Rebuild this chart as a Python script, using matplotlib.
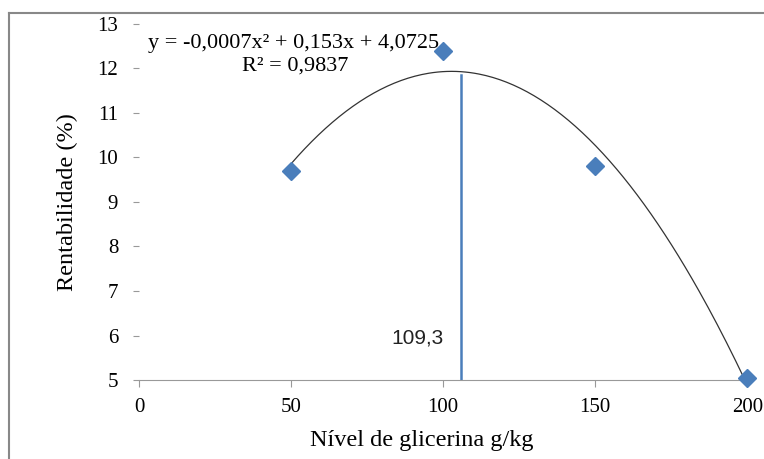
import numpy as np
import matplotlib.pyplot as plt
from matplotlib.lines import Line2D

# data
nivel = [50, 100, 150, 200]
rentab = [9.7, 12.4, 9.8, 5.05]
x_ticks = [0, 50, 100, 150, 200]
y_ticks = [5, 6, 7, 8, 9, 10, 11, 12, 13]
vline_x = 106
vline_top = 11.85
eq_text = "y = -0,0007x\u00b2 + 0,153x + 4,0725"
r2_text = "R\u00b2 = 0,9837"
vline_label = "109,3"

plt.rcParams['font.family'] = ['Liberation Serif', 'DejaVu Serif']

fig = plt.figure(figsize=(7.64, 4.59), dpi=100)
ax = fig.add_axes([0.182, 0.172, 0.796, 0.776])

# quadratic trend line
coef = np.polyfit(nivel, rentab, 2)
xs = np.linspace(50, 200, 200)
ax.plot(xs, np.polyval(coef, xs), color='#333333', lw=0.9)

ax.plot(nivel, rentab, 'D', color='#4a7ebb', ms=9, clip_on=False, zorder=5)

ax.plot([vline_x, vline_x], [5, vline_top], color='#4a7ebb', lw=1.8)
ax.text(91.5, 5.94, vline_label, family=['Liberation Sans', 'DejaVu Sans'],
        fontsize=15, ha='center', va='center', color='#222222')

ax.text(3, 12.57, eq_text, fontsize=16, va='center')
ax.text(34, 12.06, r2_text, fontsize=16, va='center')

ax.set_xlim(0, 200)
ax.set_ylim(5, 13)
ax.set_xticks(x_ticks)
ax.set_yticks(y_ticks)
for s in ['top', 'right', 'left']:
    ax.spines[s].set_visible(False)
ax.spines['bottom'].set_color('#999999')
ax.tick_params(axis='x', colors='#999999', labelcolor='black', length=5,
               labelsize=15, pad=8)
ax.tick_params(axis='y', colors='#999999', labelcolor='black', length=4,
               labelsize=15, pad=11)
ax.set_xlabel("N\u00edvel de glicerina g/kg", fontsize=17.5, labelpad=8)
ax.xaxis.set_label_coords(0.465, -0.14)
ax.set_ylabel("Rentabilidade (%)", fontsize=17.5, labelpad=14)

# outer frame (top and left only)
fig.add_artist(Line2D([9/764, 1], [1-13/459, 1-13/459], color='#888888', lw=1.5))
fig.add_artist(Line2D([9/764, 9/764], [0, 1-13/459], color='#888888', lw=1.5))

fig.savefig('out.png', dpi=100)
